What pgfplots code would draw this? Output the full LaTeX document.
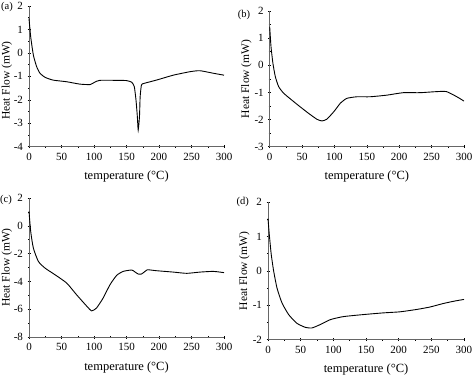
\documentclass[border=0pt]{standalone}
\usepackage{pgfplots}
\pgfplotsset{compat=1.18}
\usepackage{fontspec}
\setmainfont{Liberation Serif}
\tikzset{plab/.style={anchor=east, inner sep=0pt, font=\fontsize{10.5}{12}\selectfont}}
\pgfplotsset{
  dsc/.style={
    scale only axis,
    axis x line*=bottom, axis y line*=left,
    xmin=0, xmax=300,
    xtick={0,50,100,150,200,250,300},
    xticklabels={0,50,100,150,200,250,300},
    minor x tick num=1,
    tick align=center,
    major tick length=3pt, minor tick length=2pt,
    tick style={black, line width=0.5pt},
    axis line style={black!60, line width=0.7pt},
    ticklabel style={font=\fontsize{11}{12}\selectfont},
    xticklabel style={yshift=-1pt},
    yticklabel style={xshift=-1pt},
    xlabel={temperature (°C)},
    ylabel={Heat Flow (mW)},
    xlabel style={at={(rel axis cs:0.5,0)}, anchor=center, yshift=-30pt, font=\fontsize{12.5}{14}\selectfont},
    ylabel style={font=\fontsize{11.5}{13}\selectfont},
    clip=false,
  },
  curve/.style={black, line width=0.9pt, smooth, tension=0.35, mark=none},
}
\begin{document}
\begin{tikzpicture}[x=1pt,y=1pt]
\useasboundingbox (0,0) rectangle (474,376);
% (a)
\begin{axis}[dsc, at={(29pt,229.3pt)}, anchor=south west, width=195pt, height=140.7pt,
  ylabel style={at={(axis description cs:-0.113,0.47)}, anchor=center},
  ymin=-4, ymax=2, ytick={-4,-3,-2,-1,0,1,2}, yticklabels={-4,-3,-2,-1,0,1,2}, minor y tick num=1]
\addplot[curve] coordinates {(0,1.47)(2.6,0.69)(6.7,-0.09)(11.8,-0.59)(17,-0.87)(24.6,-1.04)(37,-1.16)(58,-1.23)(78,-1.33)(94,-1.35)(101,-1.25)(109,-1.17)(135,-1.17)(150,-1.18)(158,-1.25)(162,-1.44)(164.6,-2.01)(166.7,-2.72)(168,-3.29)(170,-2.7)(171,-1.87)(173,-1.37)(177,-1.3)(196,-1.16)(222,-0.95)(248,-0.8)(263,-0.76)(284,-0.87)(300,-0.95)};
\node[plab] at (rel axis cs:0,1) [xshift=-16pt, yshift=-1pt] {(a)};
\end{axis}
% (b)
\begin{axis}[dsc, at={(269.7pt,229.3pt)}, anchor=south west, width=194.3pt, height=135.7pt,
  ylabel style={at={(axis description cs:-0.12,0.5)}, anchor=center},
  ymin=-3, ymax=2, ytick={-3,-2,-1,0,1,2}, yticklabels={-3,-2,-1,0,1,2}, minor y tick num=1]
\addplot[curve] coordinates {(0,1.42)(2,0.69)(5,0.07)(8.7,-0.42)(13.9,-0.79)(21.6,-1.03)(34,-1.28)(47,-1.53)(60,-1.77)(73,-1.99)(80.6,-2.05)(88,-1.99)(99,-1.71)(109,-1.40)(119,-1.22)(134.6,-1.16)(155,-1.16)(181,-1.10)(206,-1.01)(232,-1.01)(258,-0.97)(273,-0.97)(289,-1.16)(300,-1.32)};
\node[plab] at (rel axis cs:0,1) [xshift=-19.5pt, yshift=-4pt] {(b)};
\end{axis}
% (c)
\begin{axis}[dsc, at={(29pt,39pt)}, anchor=south west, width=195pt, height=139pt,
  ylabel style={at={(axis description cs:-0.113,0.5)}, anchor=center},
  ymin=-8, ymax=2, ytick={-8,-6,-4,-2,0,2}, yticklabels={-8,-6,-4,-2,0,2}, minor y tick num=1]
\addplot[curve] coordinates {(0,1.04)(2.6,-0.4)(6.7,-1.6)(14.4,-2.56)(24.6,-3.04)(40,-3.52)(58,-4.12)(73,-4.95)(89,-5.79)(96.4,-6.12)(104,-5.91)(114,-5.2)(124.6,-4.24)(135,-3.56)(145,-3.28)(158,-3.18)(163,-3.32)(168,-3.47)(173,-3.47)(178.5,-3.28)(182,-3.16)(196,-3.23)(222,-3.33)(242.6,-3.42)(263,-3.33)(283.6,-3.28)(300,-3.37)};
\node[plab] at (rel axis cs:0,1) [xshift=-17pt, yshift=-2pt] {(c)};
\end{axis}
% (d)
\begin{axis}[dsc, at={(268pt,36.3pt)}, anchor=south west, width=196pt, height=137.7pt,
  ylabel style={at={(axis description cs:-0.12,0.5)}, anchor=center},
  ymin=-2, ymax=2, ytick={-2,-1,0,1,2}, yticklabels={-2,-1,0,1,2}, minor y tick num=1]
\addplot[curve] coordinates {(0,1.52)(2,1.05)(5,0.47)(8.7,-0.01)(13.8,-0.5)(21.4,-0.93)(31.6,-1.27)(44,-1.52)(57,-1.64)(67,-1.66)(80,-1.56)(95,-1.42)(115,-1.33)(146,-1.27)(177,-1.22)(202,-1.19)(228,-1.12)(248,-1.05)(268,-0.95)(285,-0.88)(300,-0.83)};
\node[plab] at (rel axis cs:0,1) [xshift=-19pt, yshift=0pt] {(d)};
\end{axis}
\end{tikzpicture}
\end{document}
